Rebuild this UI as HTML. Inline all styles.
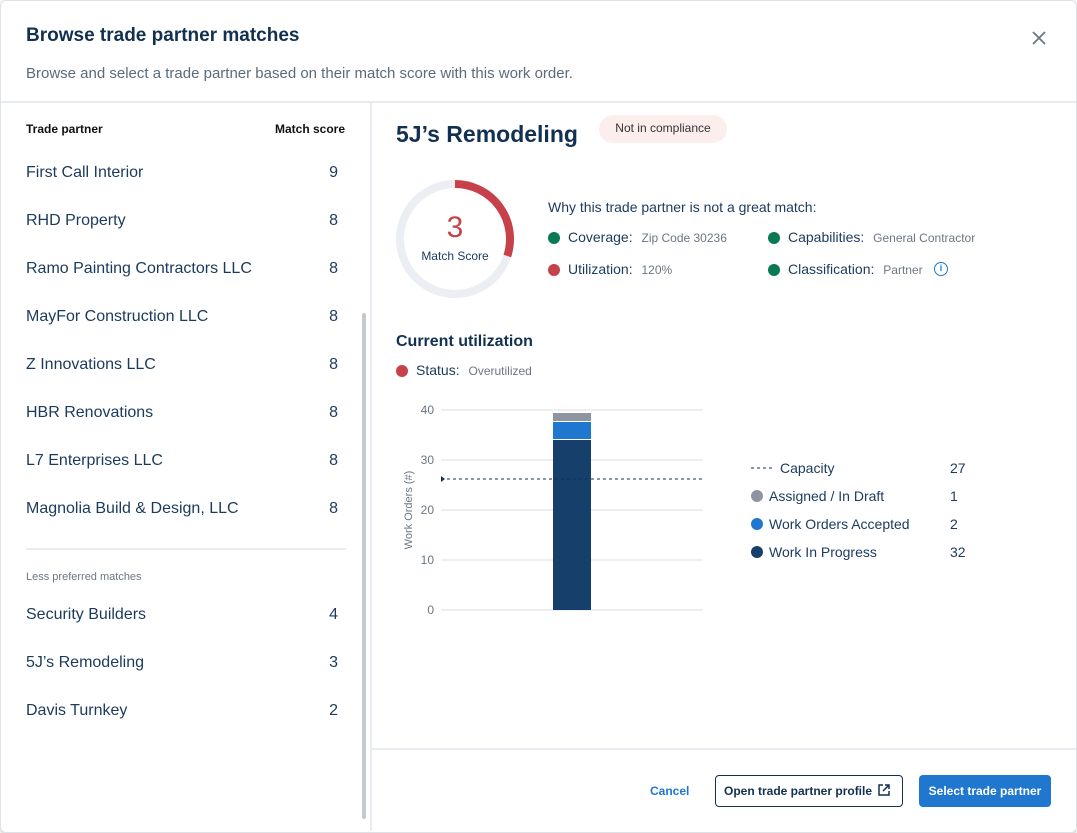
<!DOCTYPE html>
<html><head><meta charset="utf-8">
<style>
*{box-sizing:border-box;margin:0;padding:0}
body{width:1077px;height:833px;background:#fff;font-family:"Liberation Sans",sans-serif;color:#1d3557;position:relative;overflow:hidden}
.a{position:absolute;white-space:nowrap}
.row{position:absolute;left:26px;width:312px;font-size:16px;color:#1b3a5c}
.row span{position:absolute;right:0}
.dot{position:absolute;width:12px;height:12px;border-radius:50%}
.lbl{font-size:14px;color:#1b3a5c}
.val{font-size:12px;color:#6b7785}
</style></head><body>
<div class="a" style="left:0;top:0;width:1077px;height:833px;border:1px solid #dde2e8;border-radius:6px;box-shadow:0 1px 3px rgba(0,0,0,.25)"></div>
<div class="a" style="left:26px;top:25px;font-size:19px;font-weight:bold;color:#12304f">Browse trade partner matches</div>
<svg class="a" style="left:1031px;top:30px" width="16" height="16"><path d="M2 2L14 14M14 2L2 14" stroke="#6b7785" stroke-width="1.8"/></svg>
<div class="a" style="left:26px;top:65px;font-size:15px;color:#5c6b7a">Browse and select a trade partner based on their match score with this work order.</div>
<div class="a" style="left:1px;top:101px;width:1075px;height:2px;background:#e8ecf0"></div>
<div class="a" style="left:370px;top:103px;width:2px;height:728px;background:#e8ecf0"></div>
<div class="a" style="left:372px;top:748px;width:704px;height:2px;background:#e8ecf0"></div>
<div class="a" style="left:362px;top:313px;width:4px;height:506px;background:#c4c9cf;border-radius:2px"></div>

<div class="a" style="left:26px;top:122px;font-size:12px;font-weight:bold;color:#111">Trade partner</div>
<div class="a" style="left:275px;top:122px;font-size:12px;font-weight:bold;color:#111">Match score</div>
<div class="row" style="top:164px">First Call Interior<span>9</span></div>
<div class="row" style="top:212px">RHD Property<span>8</span></div>
<div class="row" style="top:260px">Ramo Painting Contractors LLC<span>8</span></div>
<div class="row" style="top:308px">MayFor Construction LLC<span>8</span></div>
<div class="row" style="top:356px">Z Innovations LLC<span>8</span></div>
<div class="row" style="top:404px">HBR Renovations<span>8</span></div>
<div class="row" style="top:452px">L7 Enterprises LLC<span>8</span></div>
<div class="row" style="top:500px">Magnolia Build &amp; Design, LLC<span>8</span></div>
<div class="a" style="left:26px;top:548px;width:320px;height:2px;background:#e8ecf0"></div>
<div class="a" style="left:26px;top:571px;font-size:11px;color:#6b7785">Less preferred matches</div>
<div class="row" style="top:606px">Security Builders<span>4</span></div>
<div class="row" style="top:654px">5J’s Remodeling<span>3</span></div>
<div class="row" style="top:702px">Davis Turnkey<span>2</span></div>

<div class="a" style="left:396px;top:121px;font-size:23px;font-weight:bold;color:#12304f">5J’s Remodeling</div>
<div class="a" style="left:599px;top:115px;width:128px;height:28px;border-radius:14px;background:#fdeeee;font-size:12px;color:#333;text-align:center;line-height:27px">Not in compliance</div>

<svg class="a" style="left:390px;top:174px" width="130" height="130">
<circle cx="65" cy="65" r="55" fill="none" stroke="#ebeef2" stroke-width="8"/>
<path id="arc" fill="none" stroke="#c6414a" stroke-width="8"/>
<text x="65" y="63" text-anchor="middle" font-size="30" fill="#c6414a" font-family="Liberation Sans">3</text>
<text x="65" y="86" text-anchor="middle" font-size="12" fill="#1b3a5c" font-family="Liberation Sans">Match Score</text>
</svg>

<div class="a" style="left:548px;top:199px;font-size:14px;color:#1b3a5c">Why this trade partner is not a great match:</div>
<div class="dot" style="left:548px;top:232px;background:#0a7a55"></div>
<div class="a" style="left:568px;top:229px"><span class="lbl">Coverage:</span>&nbsp;&nbsp;<span class="val">Zip Code 30236</span></div>
<div class="dot" style="left:548px;top:264px;background:#c6414a"></div>
<div class="a" style="left:568px;top:261px"><span class="lbl">Utilization:</span>&nbsp;&nbsp;<span class="val">120%</span></div>
<div class="dot" style="left:768px;top:232px;background:#0a7a55"></div>
<div class="a" style="left:788px;top:229px"><span class="lbl">Capabilities:</span>&nbsp;&nbsp;<span class="val">General Contractor</span></div>
<div class="dot" style="left:768px;top:264px;background:#0a7a55"></div>
<div class="a" style="left:788px;top:261px"><span class="lbl">Classification:</span>&nbsp;&nbsp;<span class="val">Partner</span></div>
<div class="a" style="left:934px;top:262px;width:14px;height:14px;border:1.5px solid #1f77d0;border-radius:50%;font-size:9px;color:#1f77d0;text-align:center;line-height:11px;font-weight:bold">i</div>

<div class="a" style="left:396px;top:333px;font-size:16px;font-weight:bold;color:#12304f">Current utilization</div>
<div class="dot" style="left:396px;top:365px;background:#c6414a"></div>
<div class="a" style="left:416px;top:362px"><span class="lbl">Status:</span>&nbsp;&nbsp;<span class="val">Overutilized</span></div>

<svg class="a" id="chart" style="left:390px;top:395px" width="600" height="230" font-family="Liberation Sans"></svg>

<div class="a" style="left:650px;top:784px;font-size:12px;font-weight:bold;color:#1f77d0">Cancel</div>
<div class="a" style="left:715px;top:775px;width:188px;height:32px;border:1px solid #12304f;border-radius:4px;font-size:12px;font-weight:bold;color:#12304f;line-height:30px;padding-left:8px">Open trade partner profile <svg width="12" height="12" style="vertical-align:-1px;margin-left:3px"><path d="M5 1H1V11H11V7M7 1H11V5M11 1L5 7" stroke="#12304f" stroke-width="1.5" fill="none"/></svg></div>
<div class="a" style="left:919px;top:775px;width:132px;height:32px;background:#1f77d0;border-radius:4px;font-size:12px;font-weight:bold;color:#fff;line-height:32px;text-align:center">Select trade partner</div>

<script>
const score = 3;
const scoreMax = 10;
const yTicks = [0, 10, 20, 30, 40];
const seriesNames = ["Work In Progress", "Work Orders Accepted", "Assigned / In Draft"];
const seriesValues = [34, 3.6, 1.8];
const seriesColors = ["#173f6b", "#1f77d0", "#8d96a0"];
const capacityValue = 26.2;
const legendNames = ["Capacity", "Assigned / In Draft", "Work Orders Accepted", "Work In Progress"];
const legendValues = ["27", "1", "2", "32"];

(function(){
  const a = score/scoreMax*2*Math.PI, r=55, cx=65, cy=65;
  const x = cx + r*Math.sin(a), y = cy - r*Math.cos(a);
  document.getElementById('arc').setAttribute('d', `M${cx} ${cy-r} A${r} ${r} 0 ${a>Math.PI?1:0} 1 ${x} ${y}`);
})();

const NS="http://www.w3.org/2000/svg";
const svg=document.getElementById('chart');
function mk(t,attrs,txt){const e=document.createElementNS(NS,t);for(const k in attrs)e.setAttribute(k,attrs[k]);if(txt!=null)e.textContent=txt;svg.appendChild(e);return e;}
const x0=51,x1=313,yBase=215,yTop=15,yMax=40;
const Y=v=>yBase-(v/yMax)*(yBase-yTop);
yTicks.forEach(t=>{
  const g=mk('line',{x1:x0,x2:x1,y1:Y(t),y2:Y(t),stroke:'#d9dde2','stroke-width':1});
  
  
  const l=mk('text',{x:44,y:Y(t)+4,'text-anchor':'end','font-size':12,fill:'#6b7785'},t);
  
  
});
const yt=mk('text',{transform:`translate(22,${Y(20)}) rotate(-90)`,'text-anchor':'middle','font-size':11,fill:'#6b7785'},'Work Orders (#)');


let acc=0;
seriesValues.forEach((v,i)=>{
  const top=Y(acc+v), bot=Y(acc);
  const r=mk('rect',{x:163,width:38,y:top,height:Math.max(0,bot-top-(i>0?1:0)),fill:seriesColors[i]});
  
  
  acc+=v;
});
const cap=mk('line',{x1:x0,x2:x1,y1:Y(capacityValue),y2:Y(capacityValue),stroke:'#12304f','stroke-width':1,'stroke-dasharray':'3,3'});


const capm=mk('path',{d:`M${x0} ${Y(capacityValue)-3} L${x0+4} ${Y(capacityValue)} L${x0} ${Y(capacityValue)+3}Z`,fill:'#12304f'});


const legColors=[null,"#8d96a0","#1f77d0","#173f6b"];
legendNames.forEach((n,i)=>{
  const y=73+i*28;
  if(i===0){
    const d=mk('line',{x1:361,x2:385,y1:y,y2:y,stroke:'#12304f','stroke-dasharray':'3,3'});
    
    
  } else {
    const c=mk('circle',{cx:367,cy:y,r:6,fill:legColors[i]});
    
    
  }
  const t=mk('text',{x:i===0?390:379,y:y+5,'font-size':14,fill:'#1b3a5c'},n);
  
  
  const v=mk('text',{x:560,y:y+5,'font-size':14,fill:'#1b3a5c'},legendValues[i]);
  
  
});
</script>
</body></html>
